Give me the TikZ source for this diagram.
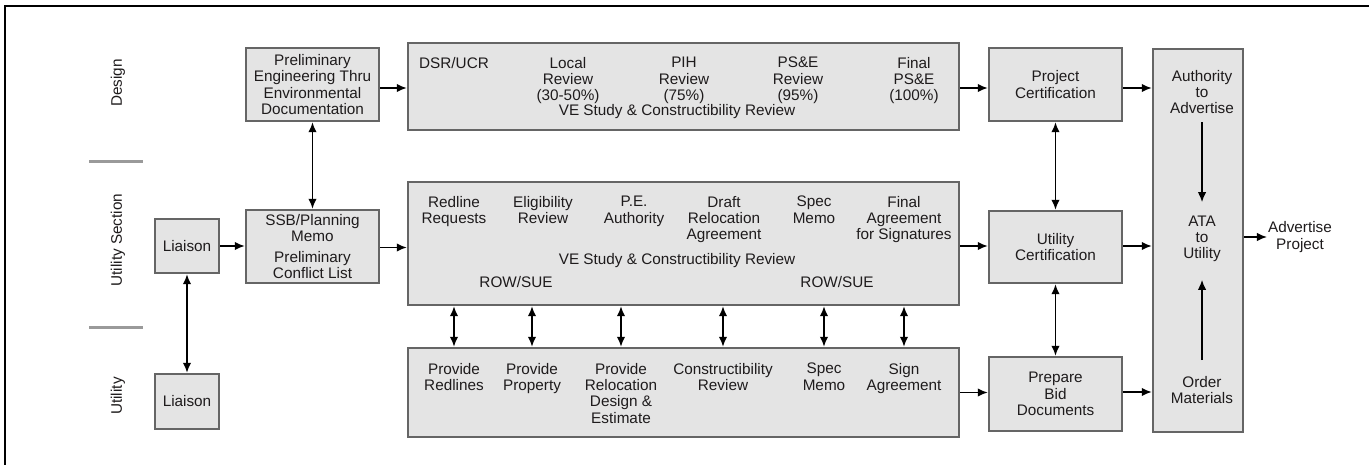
\documentclass[tikz,border=0pt]{standalone}
\usepackage{fontspec}
\setmainfont{Liberation Sans}
\usetikzlibrary{arrows.meta}
\definecolor{boxfill}{HTML}{E4E4E4}
\definecolor{boxline}{HTML}{656565}
\definecolor{txt}{HTML}{1E1B1C}
\definecolor{sepc}{HTML}{9A9A9A}
\begin{document}
\begin{tikzpicture}[x=1pt,y=-1pt,
  bx/.style={draw=boxline, fill=boxfill, line width=2.4pt, inner sep=0pt, align=center,
     font=\fontsize{15.3}{16.3}\selectfont, text=txt},
  lbl/.style={align=center, font=\fontsize{15.3}{16.3}\selectfont, text=txt, inner sep=1pt},
  arr/.style={-{Latex[length=10pt,width=8.5pt]}, line width=1.6pt},
  darr/.style={{Latex[length=10pt,width=8.5pt]}-{Latex[length=10pt,width=8.5pt]}, line width=1.6pt},
  sepl/.style={draw=sepc, line width=3pt}]
\useasboundingbox (0,0) rectangle (1369,464);
\draw[line width=2pt] (5,480) -- (5,6) -- (1390,6);

% lane labels
\node[lbl, rotate=90] (ld) at (118,83) {Design};
\node[lbl, rotate=90] (lus) at (118,240) {Utility Section};
\node[lbl, rotate=90] (lu) at (118,396) {Utility};
\draw[sepl] (89,161) -- (143,161);
\draw[sepl] (89,327) -- (143,327);

% left boxes
\node[bx, minimum width=133pt, minimum height=73pt] (prel) at (312.5,84.5)
  {Preliminary\\Engineering Thru\\Environmental\\Documentation};
\node[bx, minimum width=133pt, minimum height=73pt] (ssb) at (312.5,246.5)
  {SSB/Planning\\Memo\\[4pt]Preliminary\\Conflict List};
\node[bx, minimum width=64pt, minimum height=54pt] (lia1) at (187,246) {Liaison};
\node[bx, minimum width=64pt, minimum height=55pt] (lia2) at (187,401.5) {Liaison};

% big boxes
\node[bx, minimum width=551pt, minimum height=87pt] (des) at (683.5,86.5) {};
\node[bx, minimum width=551pt, minimum height=123pt] (usec) at (683.5,243.5) {};
\node[bx, minimum width=551pt, minimum height=89pt] (util) at (683.5,392.5) {};

% design items
\node[lbl, anchor=north] (d1) at (454,56) {DSR/UCR};
\node[lbl, anchor=north] (d2) at (568,56) {Local\\Review\\(30-50\%)};
\node[lbl, anchor=north] (d3) at (684,56) {PIH\\Review\\(75\%)};
\node[lbl, anchor=north] (d4) at (798,56) {PS\&E\\Review\\(95\%)};
\node[lbl, anchor=north] (d5) at (914,56) {Final\\PS\&E\\(100\%)};
\node[lbl] (d6) at (677,112) {VE Study \& Constructibility Review};

% utility section items
\node[lbl, anchor=north] (u1) at (454,195) {Redline\\Requests};
\node[lbl, anchor=north] (u2) at (543,195) {Eligibility\\Review};
\node[lbl, anchor=north] (u3) at (634,195) {P.E.\\Authority};
\node[lbl, anchor=north] (u4) at (724,195) {Draft\\Relocation\\Agreement};
\node[lbl, anchor=north] (u5) at (814,195) {Spec\\Memo};
\node[lbl, anchor=north] (u6) at (904,195) {Final\\Agreement\\for Signatures};
\node[lbl] (u7) at (677,261) {VE Study \& Constructibility Review};
\node[lbl] (u8) at (516,282) {ROW/SUE};
\node[lbl] (u9) at (837,282) {ROW/SUE};

% utility items
\node[lbl, anchor=north] (p1) at (454,362) {Provide\\Redlines};
\node[lbl, anchor=north] (p2) at (532,362) {Provide\\Property};
\node[lbl, anchor=north] (p3) at (621,362) {Provide\\Relocation\\Design \&\\Estimate};
\node[lbl, anchor=north] (p4) at (723,362) {Constructibility\\Review};
\node[lbl, anchor=north] (p5) at (824,362) {Spec\\Memo};
\node[lbl, anchor=north] (p6) at (904,362) {Sign\\Agreement};

% right boxes
\node[bx, minimum width=133pt, minimum height=73pt] (pc) at (1055.5,84.5) {Project\\Certification};
\node[bx, minimum width=133pt, minimum height=72pt] (uc) at (1055.5,247) {Utility\\Certification};
\node[bx, minimum width=133pt, minimum height=74pt] (pb) at (1055.5,394) {Prepare\\Bid\\Documents};
\node[bx, minimum width=90pt, minimum height=383pt] (ata) at (1198,240.5) {};
\node[lbl] (auth) at (1202,92) {Authority\\to\\Advertise};
\node[lbl] (atat) at (1202,239) {ATA\\to\\Utility};
\node[lbl] (ord) at (1202,390) {Order\\Materials};
\node[lbl] (adv) at (1300,237) {Advertise\\Project};

% horizontal arrows
\draw[arr] ([yshift=-3.5pt]prel.east) -- ([yshift=-3.5pt]prel.east -| des.west);
\draw[arr] ([yshift=-3.5pt]pc.west -| des.east) -- ([yshift=-3.5pt]pc.west);
\draw[arr] ([yshift=-3.5pt]pc.east) -- ([yshift=-3.5pt]pc.east -| ata.west);
\draw[arr] (lia1.east) -- (lia1.east -| ssb.west);
\draw[arr] ([yshift=-1pt]ssb.east) -- ([yshift=-1pt]ssb.east -| usec.west);
\draw[arr] ([yshift=1pt]uc.west -| usec.east) -- ([yshift=1pt]uc.west);
\draw[arr] ([yshift=1pt]uc.east) -- ([yshift=1pt]uc.east -| ata.west);
\draw[arr] (util.east) -- (util.east -| pb.west);
\draw[arr] ([yshift=2pt]pb.east) -- ([yshift=2pt]pb.east -| ata.west);
\draw[arr] (ata.east |- adv.west) -- (adv.west);

% vertical arrows
\draw[darr] (prel.south) -- (ssb.north);
\draw[darr] (lia1.south) -- (lia2.north);
\draw[darr] (pc.south) -- (uc.north);
\draw[darr] (uc.south) -- (pb.north);
\foreach \p in {p1,p2,p3,p4,p5,p6}{
  \draw[darr] (usec.south -| \p) -- (util.north -| \p);
}
\draw[arr, shorten <=7pt, shorten >=12.5pt] (auth.south) -- (atat.north);
\draw[arr, shorten <=15pt, shorten >=16.5pt] (ord.north) -- (atat.south);
\end{tikzpicture}
\end{document}
